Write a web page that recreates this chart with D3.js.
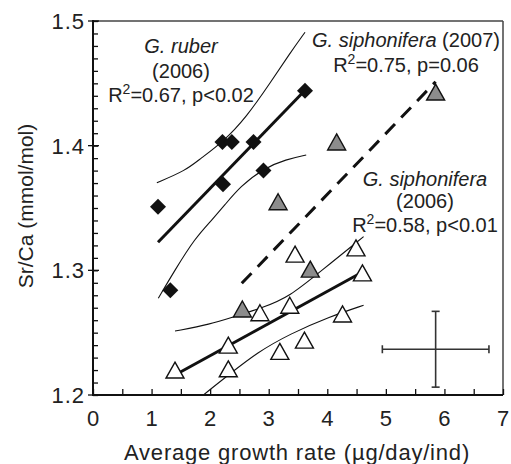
<!DOCTYPE html>
<html><head><meta charset="utf-8">
<script src="https://cdn.jsdelivr.net/npm/d3@7"></script>
<style>body{margin:0;background:#fff}svg{display:block}text{font-family:"Liberation Sans",Arial,sans-serif;fill:#222}</style>
</head><body>
<svg id="c" width="511" height="464"></svg>
<script>
// ---- data ----
const xTicks = [0,1,2,3,4,5,6,7];
const yTicks = [1.2,1.3,1.4,1.5];
const xLabel = "Average growth rate (\u00b5g/day/ind)";
const yLabel = "Sr/Ca (mmol/mol)";

const ruberX = [1.11,1.32,2.21,2.37,2.74,2.22,2.91,3.62];
const ruberY = [1.351,1.284,1.403,1.403,1.403,1.369,1.380,1.444];
const ruberFitX = [1.11,3.62];
const ruberFitY = [1.3225,1.4445];
const ruberUpX = [1.09,1.58,1.83,2.22,2.62,3.02,3.36,3.62];
const ruberUpY = [1.3703,1.380,1.3895,1.403,1.423,1.450,1.474,1.491];
const ruberLoX = [1.115,1.40,1.74,2.03,2.25,2.51,2.91,3.30,3.64];
const ruberLoY = [1.2776,1.3003,1.3257,1.3404,1.3524,1.3671,1.3818,1.389,1.3925];

const sip07X = [2.55,3.16,3.71,4.16,5.85];
const sip07Y = [1.269,1.355,1.301,1.403,1.443];
const sip07FitX = [2.54,5.85];
const sip07FitY = [1.2896,1.4513];

const sip06X = [1.40,2.31,2.31,2.85,3.19,3.36,3.45,3.61,4.26,4.49,4.60];
const sip06Y = [1.220,1.240,1.221,1.266,1.235,1.272,1.313,1.244,1.265,1.318,1.298];
const sip06FitX = [1.40,4.61];
const sip06FitY = [1.216,1.2989];
const sip06UpX = [1.40,2.0,2.42,2.90,3.36,3.88,4.62];
const sip06UpY = [1.2513,1.2567,1.263,1.270,1.279,1.299,1.327];
const sip06LoX = [1.40,1.88,2.34,2.80,3.36,4.05,4.62];
const sip06LoY = [1.181,1.200,1.217,1.234,1.249,1.263,1.272];

const errX = 5.85, errY = 1.2367, errDX = 0.91, errDY = 0.0304;

// ---- chart ----
const svg = d3.select("#c");
const L=93, R=503, T=21, B=395;
const x = d3.scaleLinear().domain([0,7]).range([L,R]);
const y = d3.scaleLinear().domain([1.2,1.5]).range([B,T]);
const zip = (a,b)=>a.map((v,i)=>[v,b[i]]);

svg.append("defs").append("clipPath").attr("id","clip")
  .append("rect").attr("x",L).attr("y",T).attr("width",R-L).attr("height",B-T);

// frame top/right
svg.append("line").attr("x1",L).attr("x2",R).attr("y1",T).attr("y2",T).attr("stroke","#444").attr("stroke-width",1.5);
svg.append("line").attr("x1",R).attr("x2",R).attr("y1",T).attr("y2",B).attr("stroke","#444").attr("stroke-width",1.5);

// x axis
const xAx = svg.append("g").attr("transform",`translate(0,${B})`);
xAx.call(d3.axisBottom(x).tickValues(d3.range(0,7.01,0.5)).tickSize(-6).tickFormat(""))
  .call(g=>g.selectAll(".tick line").attr("stroke","#111").attr("stroke-width",1.3))
  .call(g=>g.select(".domain").remove());
xAx.append("line").attr("x1",L).attr("x2",R).attr("stroke","#111").attr("stroke-width",2);
xAx.selectAll("text.lab").data(xTicks).join("text").attr("class","lab")
  .attr("x",d=>x(d)).attr("y",31).attr("text-anchor","middle").style("font-size","22px").text(d=>d);

// y axis
const yAx = svg.append("g").attr("transform",`translate(${L},0)`);
yAx.call(d3.axisRight(y).tickValues(d3.range(0,31).map(i=>1.2+i*0.01)).tickSize(5).tickFormat(""))
  .call(g=>g.selectAll(".tick line").attr("stroke","#111").attr("stroke-width",1.3))
  .call(g=>g.select(".domain").remove());
yAx.selectAll("line.maj").data(yTicks).join("line").attr("class","maj")
  .attr("x1",-5).attr("x2",6).attr("y1",d=>y(d)).attr("y2",d=>y(d)).attr("stroke","#111").attr("stroke-width",1.3);
yAx.append("line").attr("y1",T-1).attr("y2",B+1).attr("stroke","#111").attr("stroke-width",2);
yAx.selectAll("text.lab").data(yTicks).join("text").attr("class","lab")
  .attr("x",-8).attr("y",d=>y(d)).attr("dy","0.36em").attr("text-anchor","end")
  .style("font-size","22px").style("letter-spacing","1px").text(d=>d.toFixed(1));

svg.append("text").attr("x",297).attr("y",460).attr("text-anchor","middle")
  .style("font-size","22px").style("letter-spacing","0.8px").text(xLabel);
svg.append("text").attr("transform","translate(33,206) rotate(-90)").attr("text-anchor","middle")
  .style("font-size","21px").text(yLabel);

// lines
const plot = svg.append("g").attr("clip-path","url(#clip)");
const line = d3.line().x(d=>x(d[0])).y(d=>y(d[1]));
const curve = d3.line().x(d=>x(d[0])).y(d=>y(d[1])).curve(d3.curveBasis);
[[ruberUpX,ruberUpY],[ruberLoX,ruberLoY],[sip06UpX,sip06UpY],[sip06LoX,sip06LoY]].forEach(([a,b])=>{
  plot.append("path").attr("d",curve(zip(a,b))).attr("fill","none").attr("stroke","#111").attr("stroke-width",1.1);
});
plot.append("path").attr("d",line(zip(ruberFitX,ruberFitY))).attr("fill","none").attr("stroke","#111").attr("stroke-width",3);
plot.append("path").attr("d",line(zip(sip06FitX,sip06FitY))).attr("fill","none").attr("stroke","#111").attr("stroke-width",3);
plot.append("path").attr("d",line(zip(sip07FitX,sip07FitY))).attr("fill","none").attr("stroke","#111").attr("stroke-width",3).attr("stroke-dasharray","14,9");

// markers
const tri = (w,h)=>`M0,${-h/2}L${w/2},${h/2}L${-w/2},${h/2}Z`;
plot.selectAll("path.s06").data(zip(sip06X,sip06Y)).join("path").attr("class","s06")
  .attr("transform",d=>`translate(${x(d[0])},${y(d[1])})`).attr("d",tri(18,16))
  .attr("fill","#fff").attr("stroke","#111").attr("stroke-width",1.4);
plot.selectAll("path.s07").data(zip(sip07X,sip07Y)).join("path").attr("class","s07")
  .attr("transform",d=>`translate(${x(d[0])},${y(d[1])})`).attr("d",tri(18,16))
  .attr("fill","#8c8c8c").attr("stroke","#111").attr("stroke-width",1.4);
plot.selectAll("path.rb").data(zip(ruberX,ruberY)).join("path").attr("class","rb")
  .attr("transform",d=>`translate(${x(d[0])},${y(d[1])})`).attr("d","M0,-8L8,0L0,8L-8,0Z")
  .attr("fill","#111");

// error cross
const eg = svg.append("g").attr("stroke","#333").attr("stroke-width",1.6);
eg.append("line").attr("x1",x(errX-errDX)).attr("x2",x(errX+errDX)).attr("y1",y(errY)).attr("y2",y(errY));
eg.append("line").attr("x1",x(errX)).attr("x2",x(errX)).attr("y1",y(errY-errDY)).attr("y2",y(errY+errDY));
[errX-errDX,errX+errDX].forEach(v=>eg.append("line").attr("x1",x(v)).attr("x2",x(v)).attr("y1",y(errY)-4).attr("y2",y(errY)+4));
[errY-errDY,errY+errDY].forEach(v=>eg.append("line").attr("x1",x(errX)-4).attr("x2",x(errX)+4).attr("y1",y(v)).attr("y2",y(v)));

// annotations
function ann(cx, by, parts){
  const t = svg.append("text").attr("x",cx).attr("y",by).attr("text-anchor","middle").style("font-size","20px");
  parts.forEach(p=>{
    const s = t.append("tspan").text(p.t);
    if(p.i) s.style("font-style","italic");
    if(p.sup) s.attr("baseline-shift","super").style("font-size","14px");
  });
}
ann(181,53,[{t:"G. ruber",i:1}]);
ann(181,78,[{t:"(2006)"}]);
ann(181,102,[{t:"R"},{t:"2",sup:1},{t:"=0.67, p<0.02"}]);
ann(406,47,[{t:"G. siphonifera",i:1},{t:" (2007)"}]);
ann(406,72,[{t:"R"},{t:"2",sup:1},{t:"=0.75, p=0.06"}]);
ann(425,186,[{t:"G. siphonifera",i:1}]);
ann(425,208,[{t:"(2006)"}]);
ann(425,232,[{t:"R"},{t:"2",sup:1},{t:"=0.58, p<0.01"}]);
</script>
</body></html>
